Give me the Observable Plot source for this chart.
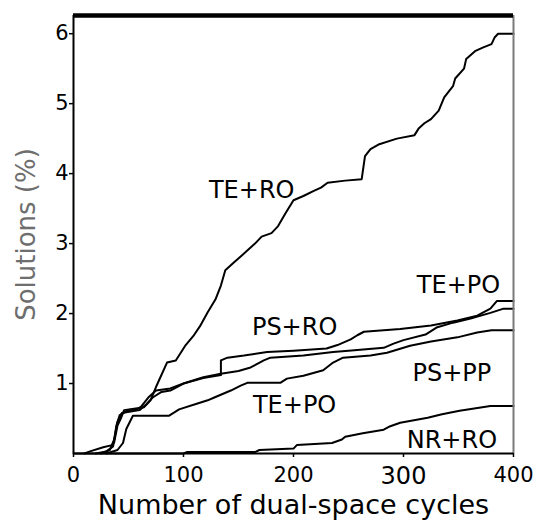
<!DOCTYPE html>
<html>
<head>
<meta charset="utf-8">
<script src="https://cdn.jsdelivr.net/npm/d3@7"></script>
<script src="https://cdn.jsdelivr.net/npm/@observablehq/plot@0.6"></script>
<style>
  html, body { margin: 0; padding: 0; background: white; }
</style>
</head>
<body>
<div id="chart"></div>
<script>
// ---- data (x = dual-space cycles, y = solutions %) ----
const teRo = [[10,0],[15,0.03],[27,0.09],[35,0.12],[37,0.16],[40,0.4],[43,0.5],[46,0.62],[55,0.64],[64,0.66],[70,0.76],[75,0.95],[79,1.09],[85,1.3],[93,1.33],[102,1.55],[109,1.68],[115,1.82],[122,2.02],[129,2.2],[134,2.4],[138,2.62],[145,2.72],[153,2.83],[165,3.0],[171,3.1],[180,3.15],[186,3.25],[193,3.44],[200,3.62],[209,3.68],[218,3.75],[225,3.8],[231,3.87],[247,3.9],[262,3.92],[265,4.25],[270,4.35],[278,4.42],[294,4.5],[310,4.55],[314,4.65],[319,4.72],[325,4.78],[332,4.9],[337,5.09],[345,5.25],[347,5.36],[355,5.5],[357,5.64],[365,5.75],[372,5.8],[380,5.85],[383,5.95],[386,6.0],[400,6.0]];
const psRo = [[20,0],[30,0.03],[36,0.1],[39,0.4],[42,0.55],[50,0.62],[58,0.63],[62,0.68],[68,0.8],[75,0.9],[88,0.93],[100,1.0],[118,1.08],[134,1.12],[134,1.33],[140,1.37],[155,1.4],[176,1.45],[200,1.47],[230,1.5],[240,1.55],[252,1.63],[258,1.69],[264,1.74],[297,1.78],[325,1.83],[349,1.9],[367,1.97],[379,2.07],[385,2.18],[400,2.18]];
const tePo = [[25,0],[33,0.05],[37,0.2],[40,0.45],[44,0.58],[52,0.6],[60,0.62],[66,0.7],[72,0.8],[80,0.88],[88,0.9],[100,1.0],[118,1.09],[134,1.14],[150,1.18],[161,1.23],[173,1.33],[179,1.37],[209,1.4],[236,1.45],[250,1.47],[282,1.51],[291,1.57],[300,1.62],[320,1.7],[330,1.8],[345,1.87],[361,1.93],[379,2.01],[391,2.07],[400,2.07]];
const psPp = [[30,0],[40,0.05],[45,0.15],[48,0.35],[54,0.54],[87,0.54],[96,0.63],[112,0.71],[122,0.76],[128,0.8],[143,0.9],[152,0.97],[158,1.01],[188,1.01],[194,1.07],[209,1.11],[227,1.19],[236,1.3],[245,1.37],[270,1.4],[285,1.44],[306,1.54],[325,1.6],[349,1.66],[367,1.73],[380,1.76],[400,1.76]];
const nrRo = [[0,0],[100,0],[103,0.02],[165,0.02],[169,0.05],[200,0.07],[203,0.12],[235,0.15],[244,0.2],[247,0.24],[263,0.29],[282,0.34],[288,0.39],[297,0.44],[322,0.51],[335,0.56],[351,0.61],[379,0.68],[400,0.68]];

const labelNames = ["TE+RO", "TE+PO", "PS+RO", "PS+PP", "TE+PO", "NR+RO"];
const labelX = [162, 350, 201, 344, 201, 344];
const labelY = [3.76, 2.41, 1.81, 1.14, 0.69, 0.19];

const xTicks = [0, 100, 200, 300, 400];
const bigXTick = 300;
const yTicks = [1, 2, 3, 4, 5, 6];
const xDomain = [0, 400];
const yDomain = [0, 6.26];

// ---- build tables ----
const seriesList = [teRo, psRo, tePo, psPp, nrRo];
const lines = seriesList.flatMap((s, i) => s.map(([x, y]) => ({x, y, s: i})));
const labels = labelNames.map((name, i) => ({name, x: labelX[i], y: labelY[i]}));

const chart = Plot.plot({
  width: 541,
  height: 521,
  marginTop: 15,
  marginBottom: 68,
  marginLeft: 73,
  marginRight: 28,
  x: {domain: xDomain},
  y: {domain: yDomain},
  style: {fontFamily: "DejaVu Sans", background: "white", color: "black", overflow: "visible"},
  marks: [
    Plot.line(lines, {x: "x", y: "y", z: "s", stroke: "black", strokeWidth: 2}),
    Plot.ruleX([xDomain[1]], {stroke: "#7a7a7a", strokeWidth: 2}),
    Plot.ruleY([yDomain[1]], {stroke: "black", strokeWidth: 4.5}),
    Plot.ruleX([xDomain[0]], {stroke: "black", strokeWidth: 2}),
    Plot.ruleY([yDomain[0]], {stroke: "black", strokeWidth: 2}),
    Plot.axisY(yTicks, {tickSize: 4, tickPadding: 1, fontSize: 21, label: null, strokeWidth: 1.5, tickFormat: d => String(d)}),
    Plot.axisX(xTicks.filter(d => d !== bigXTick), {tickSize: 4, tickPadding: 10, fontSize: 21, label: null, strokeWidth: 1.5, tickFormat: d => String(d)}),
    Plot.axisX([bigXTick], {tickSize: 4, tickPadding: 9, fontSize: 24, label: null, strokeWidth: 1.5, tickFormat: d => String(d)}),
    Plot.text(labels, {x: "x", y: "y", text: "name", fontSize: 24, fill: "black", textAnchor: "middle", lineAnchor: "middle"}),
    Plot.text(["Solutions (%)"], {frameAnchor: "left", dx: -47, rotate: -90, fontSize: 26, fill: "#6e6e6e", lineAnchor: "middle", textAnchor: "middle"}),
    Plot.text(["Number of dual-space cycles"], {frameAnchor: "bottom", dy: 52, fontSize: 27, fill: "black", lineAnchor: "middle", textAnchor: "middle"})
  ]
});
document.getElementById("chart").appendChild(chart);
</script>
</body>
</html>
